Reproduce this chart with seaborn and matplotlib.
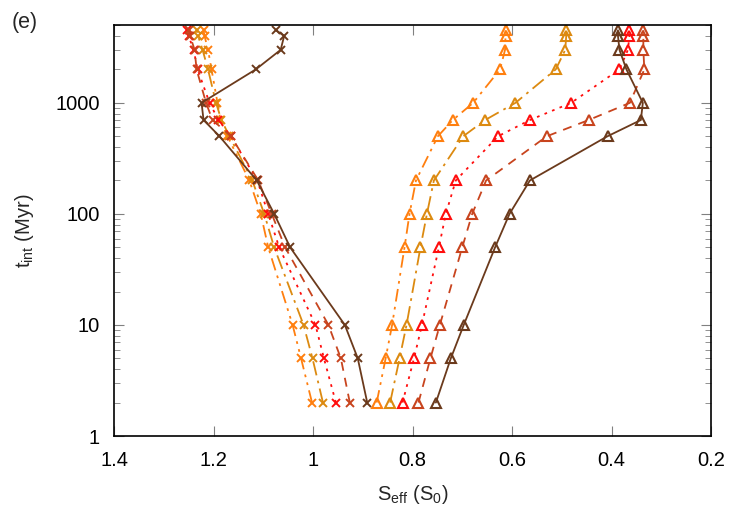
import numpy as np
import pandas as pd
import matplotlib
matplotlib.use("Agg")
import matplotlib.pyplot as plt
import seaborn as sns
from matplotlib.ticker import LogLocator, NullFormatter, FixedLocator

# interior age levels (Myr)
t_int = [2, 5, 10, 50, 100, 200, 500, 700, 1000, 2000, 3000, 4000, 4500]

# left branch (x markers)
inner_light_orange = [1.002, 1.024, 1.041, 1.090, 1.105, 1.128, 1.172, 1.186, 1.192, 1.204, 1.211, 1.218, 1.220]
inner_orange = [0.980, 1.001, 1.019, 1.078, 1.098, 1.122, 1.168, 1.184, 1.195, 1.211, 1.222, 1.231, 1.234]
inner_red = [0.954, 0.978, 0.995, 1.068, 1.090, 1.112, 1.165, 1.190, 1.208, 1.232, 1.240, 1.250, 1.253]
inner_brown = [0.926, 0.944, 0.969, 1.056, 1.083, 1.110, 1.165, 1.202, 1.215, 1.234, 1.238, 1.247, 1.250]
inner_dark_brown = [0.891, 0.910, 0.936, 1.046, 1.078, 1.113, 1.188, 1.220, 1.224, 1.115, 1.065, 1.058, 1.074]

# right branch (triangles)
outer_light_orange = [0.872, 0.854, 0.841, 0.816, 0.806, 0.793, 0.749, 0.719, 0.678, 0.624, 0.614, 0.613, 0.613]
outer_orange = [0.845, 0.826, 0.812, 0.784, 0.771, 0.757, 0.698, 0.654, 0.593, 0.512, 0.493, 0.491, 0.491]
outer_red = [0.820, 0.797, 0.781, 0.747, 0.733, 0.713, 0.628, 0.564, 0.481, 0.384, 0.367, 0.364, 0.364]
outer_brown = [0.788, 0.764, 0.745, 0.700, 0.680, 0.652, 0.530, 0.446, 0.363, 0.334, 0.336, 0.336, 0.336]
outer_dark_brown = [0.753, 0.723, 0.697, 0.634, 0.605, 0.564, 0.408, 0.341, 0.337, 0.370, 0.384, 0.387, 0.387]

series = [
    ("light_orange", inner_light_orange, outer_light_orange, "#ff7f0f", (0, (7, 3, 1.5, 3, 1.5, 3))),
    ("orange", inner_orange, outer_orange, "#dc8a10", (0, (8, 3, 1.5, 3))),
    ("red", inner_red, outer_red, "#ff0d0d", (0, (1.5, 3))),
    ("brown", inner_brown, outer_brown, "#c8441e", (0, (5, 4))),
    ("dark_brown", inner_dark_brown, outer_dark_brown, "#6b3a1c", "-"),
]

sns.set_style("ticks")
plt.rcParams["font.family"] = ["Liberation Sans", "DejaVu Sans"]
plt.rcParams["mathtext.fontset"] = "custom"
plt.rcParams["mathtext.rm"] = "Liberation Sans"
plt.rcParams["mathtext.it"] = "Liberation Sans"

fig = plt.figure(figsize=(7.5, 5.25), dpi=100)
ax = fig.add_axes([0.152, 0.1695, 0.796, 0.7825])

for name, inner, outer, color, ls in series:
    df = pd.DataFrame({"s_eff": inner, "t": t_int})
    sns.lineplot(data=df, x="s_eff", y="t", sort=False, estimator=None, ax=ax,
                 color=color, linestyle=ls, linewidth=1.3, marker="x",
                 markersize=6, markeredgewidth=1.4, markeredgecolor=color)
    df = pd.DataFrame({"s_eff": outer, "t": t_int})
    sns.lineplot(data=df, x="s_eff", y="t", sort=False, estimator=None, ax=ax,
                 color=color, linestyle=ls, linewidth=1.3, marker="^",
                 markersize=6.5, markeredgewidth=1.5, markeredgecolor=color,
                 markerfacecolor="none")

ax.set_yscale("log")
ax.set_xlim(1.4, 0.2)
ax.set_ylim(1, 5000)
ax.xaxis.set_major_locator(FixedLocator([1.4, 1.2, 1.0, 0.8, 0.6, 0.4, 0.2]))
ax.set_xticklabels(["1.4", "1.2", "1", "0.8", "0.6", "0.4", "0.2"])
ax.yaxis.set_major_locator(FixedLocator([1, 10, 100, 1000]))
ax.set_yticklabels(["1", "10", "100", "1000"])
ax.yaxis.set_minor_locator(LogLocator(base=10, subs=np.arange(2, 10), numticks=12))
ax.yaxis.set_minor_formatter(NullFormatter())

ax.tick_params(which="both", direction="in", top=True, right=True, labelsize=14.5,
               color="#808080", labelcolor="black")
ax.tick_params(axis="x", pad=11)
ax.tick_params(axis="y", pad=10)
ax.tick_params(which="major", length=7)
ax.tick_params(which="minor", length=4)
for sp in ax.spines.values():
    sp.set_linewidth(1.2)
    sp.set_color("black")

ax.set_xlabel(r"S$_{\mathrm{eff}}$ (S$_{\mathrm{0}}$)", fontsize=14.5, labelpad=9)
ax.set_ylabel(r"t$_{\mathrm{int}}$ (Myr)", fontsize=14.5, labelpad=14)
fig.text(0.016, 0.957, "(e)", fontsize=15.5, ha="left", va="center")

fig.savefig("out.png", dpi=100)
